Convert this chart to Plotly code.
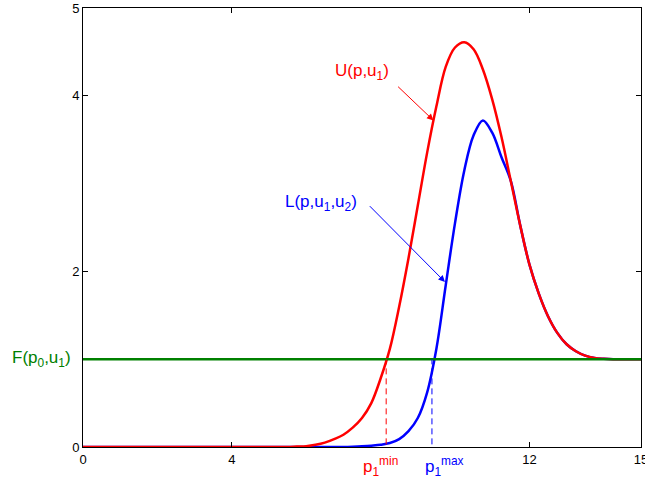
import plotly.graph_objects as go

# data
p = [i * 0.25 for i in range(61)]  # 0 .. 15
U = [0]*23 + [0.005, 0.01, 0.025, 0.05, 0.09, 0.14, 0.22, 0.33, 0.5, 0.78,
      1.12, 1.6, 2.15, 2.75, 3.35, 3.88, 4.33, 4.55, 4.61, 4.53, 4.3, 3.96,
      3.53, 3.03, 2.53, 2.08, 1.75, 1.49, 1.3, 1.17, 1.09, 1.04, 1.015, 1.005,
      1.0, 1.0, 1.0, 1.0]
L = [0]*29 + [0.003, 0.008, 0.015, 0.025, 0.045, 0.09, 0.18, 0.33, 0.62, 1.12,
      1.84, 2.55, 3.15, 3.55, 3.72, 3.58, 3.3] + U[46:]
F_level = 1.0
p_min = 8.15
p_max = 9.38

x_ticks = [0, 4, 12, 15]
x_ticklabels = ["0", "4", "12", "15"]
y_ticks = [0, 2, 4, 5]
y_ticklabels = ["0", "2", "4", "5"]

RED = "#ff0000"
BLUE = "#0000ff"
GREEN = "#008000"
FONT = "Liberation Sans, Arial, sans-serif"

fig = go.Figure()
fig.add_trace(go.Scatter(x=p, y=L, mode="lines",
                         line=dict(color=BLUE, width=2.5, shape="spline", smoothing=1.0)))
fig.add_trace(go.Scatter(x=p, y=U, mode="lines",
                         line=dict(color=RED, width=2.5, shape="spline", smoothing=1.0)))
fig.add_trace(go.Scatter(x=[0, 15], y=[F_level, F_level], mode="lines",
                         line=dict(color=GREEN, width=2.5)))
fig.add_trace(go.Scatter(x=[p_min, p_min], y=[0.03, F_level], mode="lines",
                         line=dict(color=RED, width=1, dash="6px,4px")))
fig.add_trace(go.Scatter(x=[p_max, p_max], y=[0.03, F_level], mode="lines",
                         line=dict(color=BLUE, width=1, dash="6px,4px")))

ann = []
ann.append(dict(x=9.42, y=3.72, ax=8.43, ay=4.12, xref="x", yref="y", axref="x", ayref="y",
                text="", showarrow=True, arrowcolor=RED, arrowwidth=1, arrowhead=2, arrowsize=1.3))
ann.append(dict(x=9.73, y=1.88, ax=7.67, ay=2.76, xref="x", yref="y", axref="x", ayref="y",
                text="", showarrow=True, arrowcolor=BLUE, arrowwidth=1, arrowhead=2, arrowsize=1.3))
ann.append(dict(x=7.5, y=4.27, xref="x", yref="y", text="U(p,u<sub>1</sub>)", showarrow=False,
                font=dict(color=RED, size=17, family=FONT)))
ann.append(dict(x=6.4, y=2.78, xref="x", yref="y", text="L(p,u<sub>1</sub>,u<sub>2</sub>)", showarrow=False,
                font=dict(color=BLUE, size=17, family=FONT)))
ann.append(dict(x=-0.018, xref="paper", xanchor="right", y=F_level, yref="y",
                text="F(p<sub>0</sub>,u<sub>1</sub>)", showarrow=False,
                font=dict(color=GREEN, size=17, family=FONT)))
ann.append(dict(x=7.48, xref="x", xanchor="left", y=-0.045, yref="paper",
                text="p<sub>1</sub><sup>min</sup>",
                showarrow=False, font=dict(color=RED, size=17, family=FONT), yanchor="middle"))
ann.append(dict(x=9.13, xref="x", xanchor="left", y=-0.045, yref="paper",
                text="p<sub>1</sub><sup>max</sup>",
                showarrow=False, font=dict(color=BLUE, size=17, family=FONT), yanchor="middle"))

fig.update_layout(
    width=645, height=479,
    margin=dict(l=83, r=4, t=8, b=32),
    paper_bgcolor="white", plot_bgcolor="white",
    showlegend=False,
    annotations=ann,
    font=dict(family=FONT, size=13, color="black"),
    xaxis=dict(range=[0, 15], tickvals=x_ticks, ticktext=x_ticklabels,
               showgrid=False, zeroline=False, showline=True, mirror="ticks",
               linecolor="black", linewidth=1, ticks="inside", ticklen=5,
               tickcolor="black", tickfont=dict(size=13), ticklabeloverflow="allow",
               automargin=False),
    yaxis=dict(range=[0, 5], tickvals=y_ticks, ticktext=y_ticklabels,
               showgrid=False, zeroline=False, showline=True, mirror="ticks",
               linecolor="black", linewidth=1, ticks="inside", ticklen=5,
               tickcolor="black", tickfont=dict(size=13), ticklabeloverflow="allow",
               automargin=False),
)

fig.write_html("out.html")
